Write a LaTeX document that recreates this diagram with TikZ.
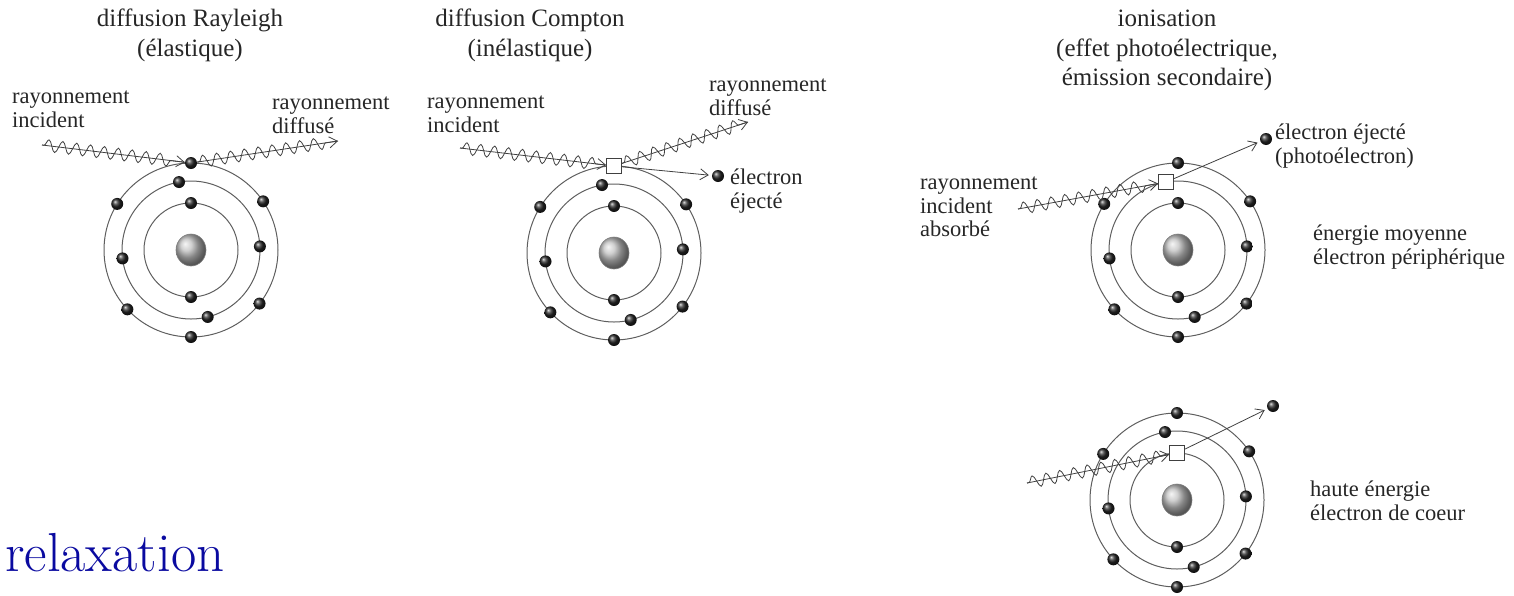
\documentclass[tikz,border=0pt]{standalone}
\usepackage{fontspec}
\newfontfamily\imgfont{Liberation Serif}
\usetikzlibrary{arrows.meta,decorations.pathmorphing}
\definecolor{orbitgray}{HTML}{5E5E5E}
\definecolor{wavegray}{HTML}{404040}
\definecolor{textgray}{HTML}{262626}
\definecolor{relaxblue}{HTML}{0A0AA0}

\begin{document}
\begin{tikzpicture}[x=1pt, y=1pt,
  orbit/.style={draw=orbitgray, line width=1},
  electron/.style={circle, inner sep=0, minimum size=12, ball color=black!85},
  nucleus/.style={ball color=gray!50, draw=gray, line width=0.6},
  box/.style={draw=wavegray, fill=white, minimum size=15, inner sep=0, line width=0.9},
  photon/.style={draw=wavegray, line width=0.8, -{Straight Barb[length=8,width=11]},
    postaction={draw=wavegray, -, decorate, decoration={snake, amplitude=6, segment length=14, pre length=2, post length=8}}},
  eject/.style={draw=wavegray, line width=0.8, -{Straight Barb[length=8,width=11]}, shorten >=3},
  title/.style={font=\imgfont\fontsize{25}{29.5}\selectfont, text=textgray, align=center, inner sep=0, anchor=north},
  lbl/.style={font=\imgfont\fontsize{22.5}{23.5}\selectfont, text=textgray, align=left, inner sep=0, anchor=north west}]

\useasboundingbox (0,0) rectangle (1514,-595);

% diffusion Rayleigh
\begin{scope}[shift={(191,-250)}]
\foreach \r in {47,69,87} \draw[orbit] (0,0) circle (\r);
\shadedraw[nucleus] (0,0) ellipse (15 and 16);
\foreach \a in {34,148,223,270,322} \node[electron] at (\a:87) {};
\foreach \a in {3,100,187,284} \node[electron] at (\a:69) {};
\foreach \a in {90,270} \node[electron] at (\a:47) {};
\node[electron] (rayel) at (90:87) {};
\end{scope}

% diffusion Compton
\begin{scope}[shift={(614,-253)}]
\foreach \r in {47,69,87} \draw[orbit] (0,0) circle (\r);
\shadedraw[nucleus] (0,0) ellipse (15 and 16);
\foreach \a in {34,148,223,270,322} \node[electron] at (\a:87) {};
\foreach \a in {3,100,187,284} \node[electron] at (\a:69) {};
\foreach \a in {90,270} \node[electron] at (\a:47) {};
\node[box] (combox) at (90:87) {};
\end{scope}

% ionisation, electron peripherique
\begin{scope}[shift={(1178,-250)}]
\foreach \r in {47,69,87} \draw[orbit] (0,0) circle (\r);
\shadedraw[nucleus] (0,0) ellipse (15 and 16);
\foreach \a in {34,90,148,223,270,322} \node[electron] at (\a:87) {};
\foreach \a in {3,187,284} \node[electron] at (\a:69) {};
\foreach \a in {90,270} \node[electron] at (\a:47) {};
\node[box] (ionbox) at (100:69) {};
\end{scope}

% ionisation, electron de coeur
\begin{scope}[shift={(1177,-500)}]
\foreach \r in {47,69,87} \draw[orbit] (0,0) circle (\r);
\shadedraw[nucleus] (0,0) ellipse (15 and 16);
\foreach \a in {34,90,148,223,270,322} \node[electron] at (\a:87) {};
\foreach \a in {3,100,187,284} \node[electron] at (\a:69) {};
\node[electron] at (270:47) {};
\node[box] (corebox) at (90:47) {};
\end{scope}

% free electrons and wave ends
\node[electron] (comel) at (718,-176) {};
\node[electron] (ionel) at (1266,-139) {};
\node[electron] (coreel) at (1273,-406) {};
\coordinate (rayin) at (42,-145);
\coordinate (rayout) at (338,-141);
\coordinate (comin) at (460,-148);
\coordinate (comout) at (748,-122);
\coordinate (ionin) at (1018,-209);
\coordinate (corein) at (1027,-483);

\draw[photon] (rayin) -- (rayel);
\draw[photon] (rayel) -- (rayout);
\draw[photon] (comin) -- (combox);
\draw[photon] (combox) -- (comout);
\draw[eject] (combox) -- (comel);
\draw[photon] (ionin) -- (ionbox);
\draw[eject] (ionbox) -- (ionel);
\draw[photon] (corein) -- (corebox);
\draw[eject] (corebox) -- (coreel);

% titles and labels
\node[title] (raytitle) at (190,-9) {diffusion Rayleigh\\(élastique)};
\node[title] (comtitle) at (530,-9) {diffusion Compton\\(inélastique)};
\node[title] (iontitle) at (1167,-10) {ionisation\\(effet photoélectrique,\\émission secondaire)};
\node[lbl] (rayinlbl) at (12,-91) {rayonnement\\incident};
\node[lbl] (rayoutlbl) at (272,-97) {rayonnement\\diffusé};
\node[lbl] (cominlbl) at (427,-96) {rayonnement\\incident};
\node[lbl] (comoutlbl) at (709,-79) {rayonnement\\diffusé};
\node[lbl] (comellbl) at (730,-169) {électron\\éjecté};
\node[lbl] (ionellbl) at (1275,-124) {électron éjecté\\(photoélectron)};
\node[lbl] (ioninlbl) at (920,-177) {rayonnement\\incident\\absorbé};
\node[lbl] (ionlbl) at (1313,-225) {énergie moyenne\\électron périphérique};
\node[lbl] (corelbl) at (1310,-481) {haute énergie\\électron de coeur};
\node[anchor=base west, inner sep=0, text=relaxblue, font=\fontsize{55}{66}\selectfont] (relax) at (5,-571) {relaxation};
\end{tikzpicture}
\end{document}
